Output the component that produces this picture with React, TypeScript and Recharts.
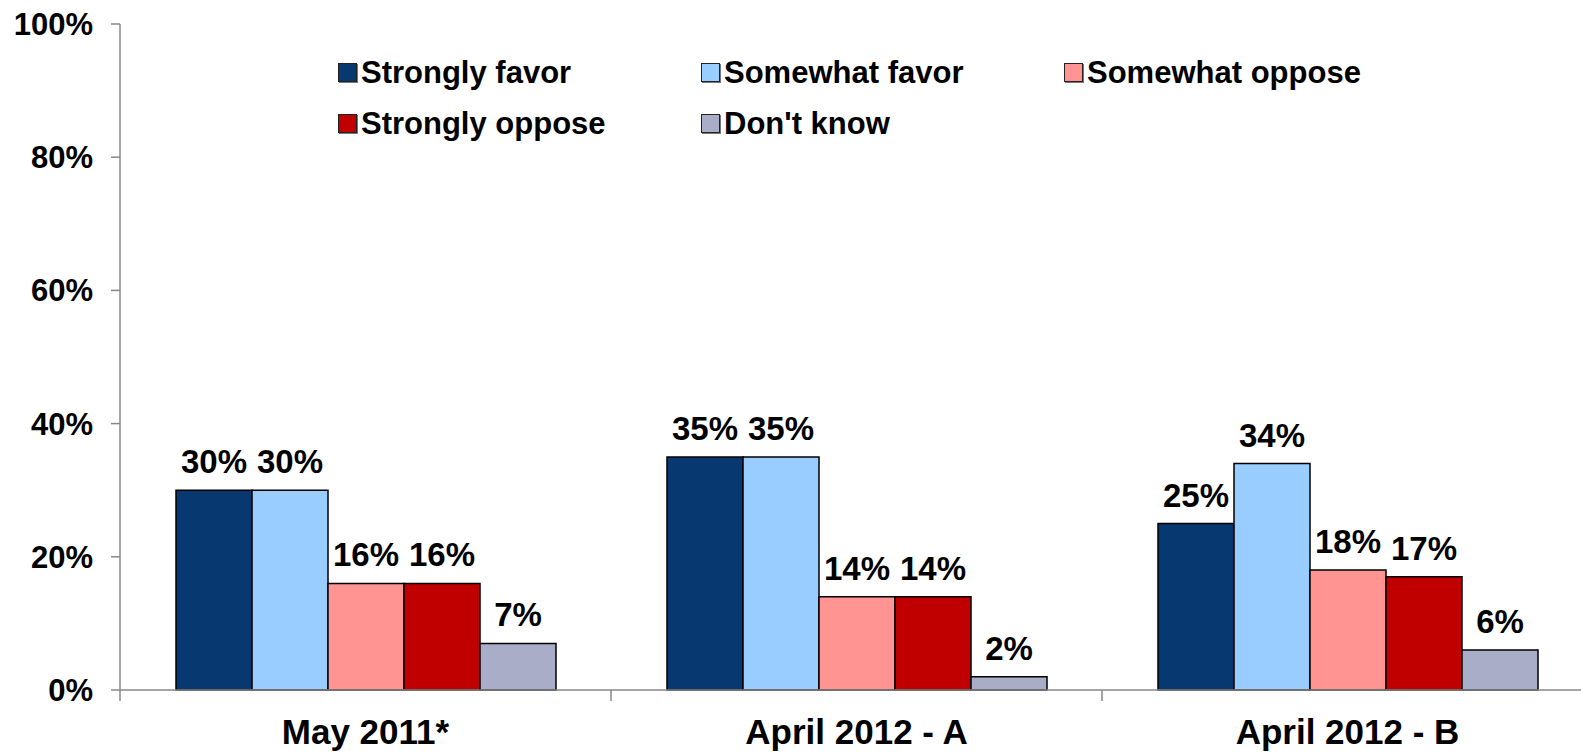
import { BarChart, Bar, XAxis, YAxis, LabelList } from 'recharts';

const categories = ['May 2011*', 'April 2012 - A', 'April 2012 - B'];
const strongFavor = [30, 35, 25];
const someFavor = [30, 35, 34];
const someOppose = [16, 14, 18];
const strongOppose = [16, 14, 17];
const dontKnow = [7, 2, 6];
const yTicks = [0, 20, 40, 60, 80, 100];

const SERIES = [
  { key: 'sf', name: 'Strongly favor', color: '#083870', values: strongFavor },
  { key: 'wf', name: 'Somewhat favor', color: '#99CCFF', values: someFavor },
  { key: 'wo', name: 'Somewhat oppose', color: '#FF9493', values: someOppose },
  { key: 'so', name: 'Strongly oppose', color: '#C00000', values: strongOppose },
  { key: 'dk', name: "Don't know", color: '#A9ADC8', values: dontKnow },
];

const data = categories.map((c, i) => {
  const row: Record<string, string | number> = { name: c };
  SERIES.forEach((s) => (row[s.key] = s.values[i]));
  return row;
});

const FONT = '"Liberation Sans", Arial, sans-serif';
const CHART_W = 1600;
const MARGIN = { top: 24, right: 7, left: 0, bottom: 0 };
const Y_W = 120;
const BAND = (CHART_W - MARGIN.right - MARGIN.left - Y_W) / categories.length;

function CategoryTick(props: any) {
  const { x, y, payload } = props;
  const left = x - BAND / 2;
  return (
    <g>
      <line x1={left} y1={y} x2={left} y2={y + 11} stroke="#878787" strokeWidth={1.5} />
      <text
        x={x}
        y={y + 54}
        textAnchor="middle"
        fontFamily={FONT}
        fontWeight="bold"
        fontSize={35}
        fill="#000"
      >
        {payload.value}
      </text>
    </g>
  );
}

// legend drawn as an overlay so it doesn't eat plot height
function LegendBox() {
  return (
    <div
      style={{
        position: 'absolute',
        top: 47,
        left: 338,
        display: 'flex',
        flexWrap: 'wrap',
        width: 1100,
      }}
    >
      {SERIES.map((s) => (
        <div
          key={s.key}
          style={{
            width: 363,
            height: 51,
            display: 'flex',
            alignItems: 'center',
            fontFamily: FONT,
            fontWeight: 'bold',
            fontSize: 31,
            lineHeight: 1,
            color: '#000',
          }}
        >
          <span
            style={{
              display: 'inline-block',
              width: 17,
              height: 17,
              background: s.color,
              border: '1.5px solid #222',
              boxShadow: '1px 1px 0 #777',
              marginRight: 4,
            }}
          />
          {s.name}
        </div>
      ))}
    </div>
  );
}

export default function App() {
  return (
    <div
      style={{
        position: 'absolute',
        left: 0,
        top: 0,
        width: 1581,
        height: 753,
        overflow: 'hidden',
        background: '#fff',
      }}
    >
      <BarChart
        width={CHART_W}
        height={753}
        data={data}
        margin={MARGIN}
        barGap={0}
        barCategoryGap={56}
      >
        <XAxis
          dataKey="name"
          height={63}
          axisLine={{ stroke: '#878787', strokeWidth: 1.5 }}
          tickLine={false}
          tickSize={0}
          tickMargin={0}
          tick={<CategoryTick />}
          interval={0}
        />
        <YAxis
          width={Y_W}
          domain={[0, 100]}
          ticks={yTicks}
          interval={0}
          tickFormatter={(v) => `${v}%`}
          axisLine={{ stroke: '#878787', strokeWidth: 1.5 }}
          tickLine={{ stroke: '#878787', strokeWidth: 1.5 }}
          tickSize={9}
          tickMargin={18}
          tick={{ fontFamily: FONT, fontWeight: 'bold', fontSize: 31, fill: '#000' }}
        />
        {SERIES.map((s) => (
          <Bar
            key={s.key}
            dataKey={s.key}
            name={s.name}
            fill={s.color}
            stroke="#000"
            strokeWidth={1.5}
            isAnimationActive={false}
          >
            <LabelList
              dataKey={s.key}
              position="top"
              offset={17}
              formatter={(v: any) => `${v}%`}
              style={{ fontFamily: FONT, fontWeight: 'bold', fontSize: 33, fill: '#000' }}
            />
          </Bar>
        ))}
      </BarChart>
      <LegendBox />
    </div>
  );
}
